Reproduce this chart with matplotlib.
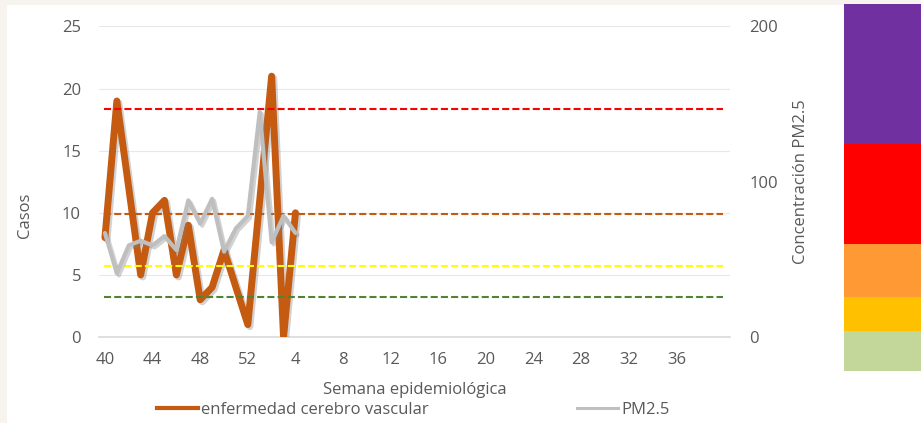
import matplotlib
matplotlib.use('Agg')
import matplotlib.pyplot as plt
import matplotlib.patheffects as pe
from matplotlib.patches import Rectangle
from matplotlib.lines import Line2D

# semanas epidemiologicas: 40..52 y 1..40
semanas = list(range(40, 53)) + list(range(1, 41))

# casos de enfermedad cerebro vascular (solo hasta la semana 4)
casos = [8, 19, 12, 5, 10, 11, 5, 9, 3, 4, 7, 4, 1, 11, 21, 0, 10]
# concentracion PM2.5
pm25 = [67, 41, 59, 62, 59, 65, 56, 88, 73, 89, 55, 70, 78, 145, 61, 78, 67]

# niveles de referencia PM2.5 (lineas punteadas)
niveles = [147, 79, 46, 26]
colores_niveles = ['#FF0000', '#C55A11', '#FFFF00', '#548235']

# barra de colores a la derecha (limites en pixeles de la imagen)
bandas_y = [4, 144, 244, 297, 331, 371]
bandas_col = ['#7030A0', '#FF0000', '#FF9933', '#FFC000', '#C4D79B']

plt.rcParams['font.family'] = ['Open Sans', 'DejaVu Sans']
gris = '#595959'
fs = 12

W, H = 921, 423
fig = plt.figure(figsize=(W / 100, H / 100), dpi=100, facecolor='#F7F3EE')
fondo = Rectangle((7 / W, 0), 1, 1 - 5 / H, transform=fig.transFigure,
                  facecolor='white', edgecolor='none', zorder=-10)
fig.patches.append(fondo)

ax = fig.add_axes([99 / W, 1 - 337 / H, (730 - 99) / W, (337 - 26.5) / H])
ax.set_facecolor('none')
ax2 = ax.twinx()
ax2.set_facecolor('none')

x = list(range(len(casos)))
sombra = [pe.SimpleLineShadow(offset=(1.5, -1.5), shadow_color='gray', alpha=0.35), pe.Normal()]

ax.plot(x, casos, color='#C55A11', lw=5, solid_joinstyle='round',
        solid_capstyle='round', path_effects=sombra, zorder=3)
ax2.plot(x, pm25, color='#BFBFBF', lw=3, solid_joinstyle='round',
         solid_capstyle='round', path_effects=sombra, zorder=3)

for nv, c in zip(niveles, colores_niveles):
    ax2.hlines(nv, -0.1, 51.9, colors=c, lw=1.5, linestyles=(0, (3.4, 1.5)), zorder=2)

ax.set_xlim(-0.5, len(semanas) - 0.5)
ax.set_ylim(0, 25)
ax2.set_ylim(0, 200)
ax.set_yticks(range(0, 26, 5))
ax2.set_yticks([0, 100, 200])
ax.set_xticks(range(0, 49, 4))
ax.set_xticklabels([str(semanas[i]) for i in range(0, 49, 4)])

ax.grid(axis='y', color='#E8E8E8', lw=0.8)
ax.set_axisbelow(True)
for a in (ax, ax2):
    for s in a.spines.values():
        s.set_visible(False)
    a.tick_params(length=0, labelsize=fs, labelcolor=gris)
ax.spines['bottom'].set_visible(True)
ax.spines['bottom'].set_color('#D9D9D9')
ax.spines['bottom'].set_linewidth(1.2)
ax.tick_params(axis='y', pad=13)
ax.tick_params(axis='x', pad=11)
ax2.tick_params(axis='y', pad=14)

ax.set_xlabel('Semana epidemiológica', fontsize=fs, color=gris, labelpad=10)
ax.set_ylabel('Casos', fontsize=fs, color=gris)
ax.yaxis.set_label_coords(-0.104, 0.393)
ax2.set_ylabel('Concentración PM2.5', fontsize=fs, color=gris)
ax2.yaxis.set_label_coords(1.1, 0.5)

h1 = Line2D([], [], color='#C55A11', lw=3)
h2 = Line2D([], [], color='#BFBFBF', lw=2.2)
fig.legend([h1, h2], ['enfermedad cerebro vascular', 'PM2.5'], loc='center',
           bbox_to_anchor=(413 / W, 1 - 410 / H), ncol=2, frameon=False,
           fontsize=fs, labelcolor=gris, handlelength=2.5, handletextpad=0.15,
           columnspacing=8.9)

for i, c in enumerate(bandas_col):
    y0, y1 = bandas_y[i], bandas_y[i + 1]
    fig.patches.append(Rectangle((844 / W, 1 - y1 / H), (921 - 844) / W, (y1 - y0) / H,
                                 transform=fig.transFigure, facecolor=c,
                                 edgecolor='none', zorder=1))

fig.savefig('out.png', dpi=100, facecolor=fig.get_facecolor())
